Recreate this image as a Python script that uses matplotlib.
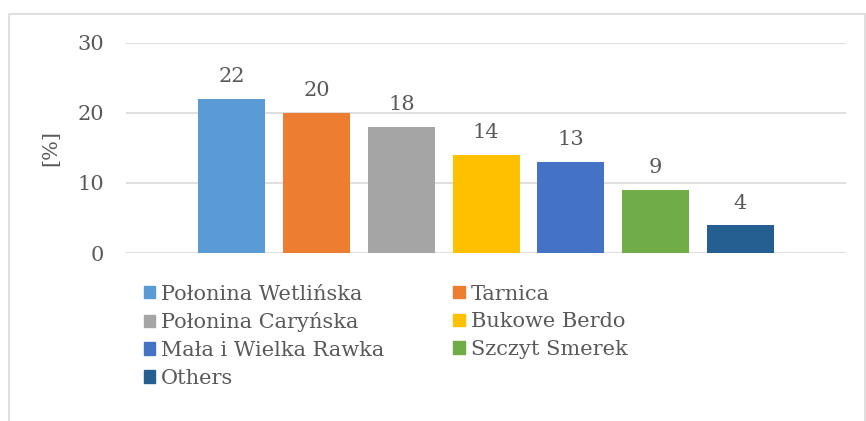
import matplotlib.pyplot as plt
from matplotlib.patches import Rectangle, Patch

# data
categories = ["Połonina Wetlińska", "Tarnica", "Połonina Caryńska", "Bukowe Berdo",
              "Mała i Wielka Rawka", "Szczyt Smerek", "Others"]
values = [22, 20, 18, 14, 13, 9, 4]
colors = ["#5B9BD5", "#ED7D31", "#A5A5A5", "#FFC000", "#4472C4", "#70AD47", "#255E91"]
y_ticks = [0, 10, 20, 30]

plt.rcParams['font.family'] = ['DejaVu Serif']
text_color = "#595959"
fs = 15

fig = plt.figure(figsize=(8.66, 4.21), dpi=100)
ax = fig.add_axes([0.1455, 0.399, 0.8315, 0.499])

# outer chart border
fig.patches.append(Rectangle((9 / 866, -0.05), 856 / 866, 1.05 - 14 / 421,
                             transform=fig.transFigure, fill=False,
                             edgecolor="#D9D9D9", linewidth=1.2))

n = len(values)
pitch = 84.7 / 720
width = 67 / 720
start = 0.5 - pitch * (n - 1) / 2
xs = [start + i * pitch for i in range(n)]

ax.bar(xs, values, width=width, color=colors, zorder=3)
for x, v in zip(xs, values):
    ax.annotate(str(v), (x, v), xytext=(0, 9), textcoords="offset points",
                ha="center", va="bottom", fontsize=fs, color=text_color)

ax.set_xlim(0, 1)
ax.set_ylim(0, 30)
ax.set_yticks(y_ticks)
ax.tick_params(axis="y", length=0, pad=16, labelsize=fs, labelcolor=text_color)
ax.set_xticks([])
ax.grid(axis="y", color="#D9D9D9", linewidth=1.2, zorder=0)
for s in ax.spines.values():
    s.set_visible(False)
ax.set_ylabel("[%]", fontsize=fs, color=text_color, labelpad=12)

# legend filled row-wise like the original
order = [0, 2, 4, 6, 1, 3, 5]
handles = [Patch(color=colors[i]) for i in order]
labels = [categories[i] for i in order]
fig.legend(handles, labels, ncol=2, loc="upper left", bbox_to_anchor=(0.161, 0.334),
           frameon=False, fontsize=fs, handlelength=0.55, handleheight=0.55,
           handletextpad=0.3, columnspacing=3.3, labelspacing=0.42,
           labelcolor=text_color, borderaxespad=0, borderpad=0.2)

fig.savefig("out.png", dpi=100)
